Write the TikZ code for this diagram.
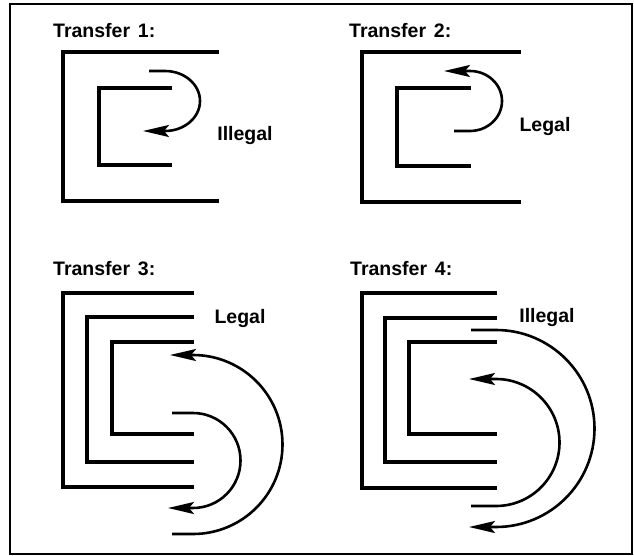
\documentclass[tikz,border=0pt]{standalone}
\usepackage{fontspec}
\setmainfont{Liberation Sans}
\usetikzlibrary{arrows.meta}

\begin{document}
\begin{tikzpicture}[x=1pt, y=-1pt,
    wall/.style={line width=3.2pt},
    flow/.style={line width=2.6pt, -{Stealth[length=26pt, width=12pt, inset=5pt]}},
    title/.style={font=\fontsize{19.5}{22}\selectfont\bfseries, inner sep=0pt, anchor=base west},
    verdict/.style={font=\fontsize{19.5}{22}\selectfont\bfseries, inner sep=0pt}]
    \useasboundingbox (0,0) rectangle (634,556);
    \draw[line width=2.4pt] (10,4) rectangle (632,554);

    % Titles
    \foreach \n/\x/\y in {1/53/38, 2/349/38, 3/53/275, 4/350/275} {
        \node[title] (t\n) at (\x,\y) {Transfer\hspace{0.4em}\n:};
    }

    % Transfer 1
    \draw[wall] (219,52) -| (63,201) -- (219,201);
    \draw[wall] (172,88) -| (99,165) -- (172,165);
    \coordinate (s1) at (149,71);
    \draw[flow] (s1) -- (165,71) arc[start angle=-90, end angle=90, x radius=35, y radius=30] -- (143,131);
    \node[verdict] (v1) at (245,136) {Illegal};

    % Transfer 2
    \draw[wall] (521,52) -| (362,202) -- (521,202);
    \draw[wall] (471,88) -| (397,166) -- (471,166);
    \coordinate (s2) at (454,131);
    \draw[flow] (s2) -- (470,131) arc[start angle=90, end angle=-90, x radius=32, y radius=30] -- (444,71);
    \node[verdict] (v2) at (545,127) {Legal};

    % Transfer 3
    \foreach \l/\t/\b in {63/293/487, 87/317/462, 112/342/434} {
        \draw[wall] (194,\t) -| (\l,\b) -- (194,\b);
    }
    \coordinate (s3a) at (172,534);
    \coordinate (s3b) at (172,413);
    \draw[flow] (s3a) -- (193,534) arc[start angle=90, end angle=-90, radius=89.5] -- (170,355);
    \draw[flow] (s3b) -- (193,413) arc[start angle=-90, end angle=90, radius=47.5] -- (168,508);
    \node[verdict] (v3) at (240,318) {Legal};

    % Transfer 4
    \foreach \l/\t/\b in {362/293/488, 385/318/462, 409/342/434} {
        \draw[wall] (497,\t) -| (\l,\b) -- (497,\b);
    }
    \coordinate (s4a) at (471,330);
    \coordinate (s4b) at (471,506);
    \draw[flow] (s4a) -- (496,330) arc[start angle=-90, end angle=90, radius=98.5] -- (469,527);
    \draw[flow] (s4b) -- (496,506) arc[start angle=90, end angle=-90, radius=63.5] -- (469,379);
    \node[verdict] (v4) at (547,317) {Illegal};
\end{tikzpicture}
\end{document}
